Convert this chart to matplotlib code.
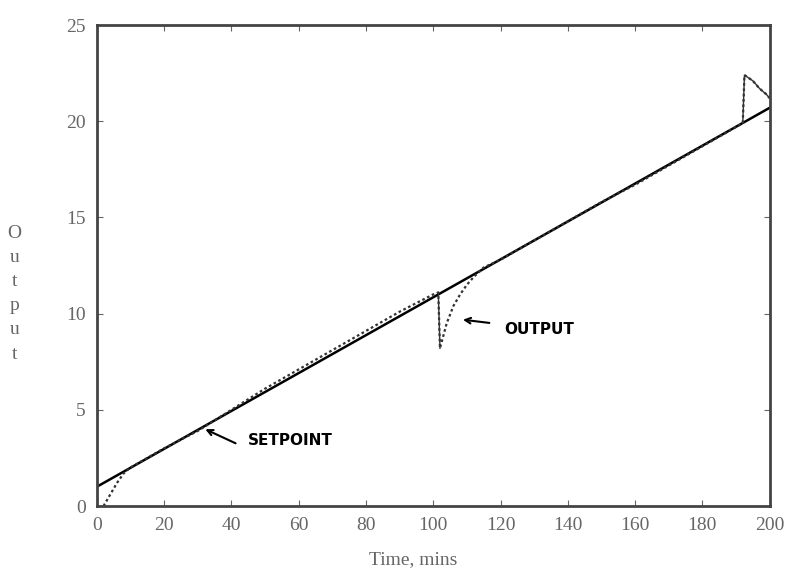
import numpy as np
import matplotlib.pyplot as plt

# setpoint ramp (end points of the straight line)
sp_time = [0, 200]
sp_value = [1.0, 20.7]

# process output
out_time = [2, 4, 6, 8, 10, 15, 20, 30, 40, 50, 60, 70, 80, 90, 100, 101.5,
            102, 104, 106, 108, 110, 112, 115, 120, 130, 140, 150, 160, 170, 180,
            190, 192, 192.5, 195, 197, 199, 200]
out_value = [0.0, 0.6, 1.2, 1.7, 2.0, 2.5, 3.0, 3.9, 5.0, 6.1, 7.1, 8.1, 9.1, 10.1, 11.0, 11.1,
             8.2, 9.5, 10.4, 11.0, 11.5, 11.9, 12.4, 12.8, 13.8, 14.8, 15.8, 16.7, 17.7, 18.7,
             19.7, 19.9, 22.4, 22.1, 21.7, 21.4, 21.2]

xticks = list(range(0, 201, 20))
yticks = [0, 5, 10, 15, 20, 25]

fig = plt.figure(figsize=(7.87, 5.76), dpi=100)
ax = fig.add_axes([0.123, 0.1215, 0.855, 0.835])

ax.plot(sp_time, sp_value, color='black', lw=1.8)
ax.plot(out_time, out_value, color='#333333', lw=1.6, ls=(0, (1.2, 1.2)))
# the disturbances show up as thin solid steps
ax.plot(out_time[15:17], out_value[15:17], color='#333333', lw=1.0)
ax.plot(out_time[31:], out_value[31:], color='#333333', lw=1.0)

ax.set_xlim(0, 200)
ax.set_ylim(0, 25)
ax.set_xticks(xticks)
ax.set_yticks(yticks)
ax.tick_params(direction='in', length=4, top=True, right=True, colors='#666666',
               labelsize=14, pad=8)
for lab in ax.get_xticklabels() + ax.get_yticklabels():
    lab.set_fontfamily('Liberation Serif')
for s in ax.spines.values():
    s.set_color('#444444')
    s.set_linewidth(2)

# handwritten-style notes
ax.annotate('', xy=(31.5, 4.05), xytext=(42, 3.2),
            arrowprops=dict(arrowstyle='->', color='black', lw=1.5))
ax.text(45, 3.4, 'SETPOINT', fontsize=11, fontweight='bold', va='center')
ax.annotate('', xy=(108, 9.7), xytext=(117.5, 9.5),
            arrowprops=dict(arrowstyle='->', color='black', lw=1.5))
ax.text(121, 9.2, 'OUTPUT', fontsize=11, fontweight='bold', va='center')

fig.text(0.525, 0.028, 'Time, mins', ha='center', va='center', fontsize=14,
         family='Liberation Serif', color='#666666')
fig.text(0.018, 0.49, '\n'.join('Output'), ha='center', va='center', fontsize=14,
         family='Liberation Serif', color='#666666', linespacing=1.55)

fig.savefig('out.png', dpi=100)
